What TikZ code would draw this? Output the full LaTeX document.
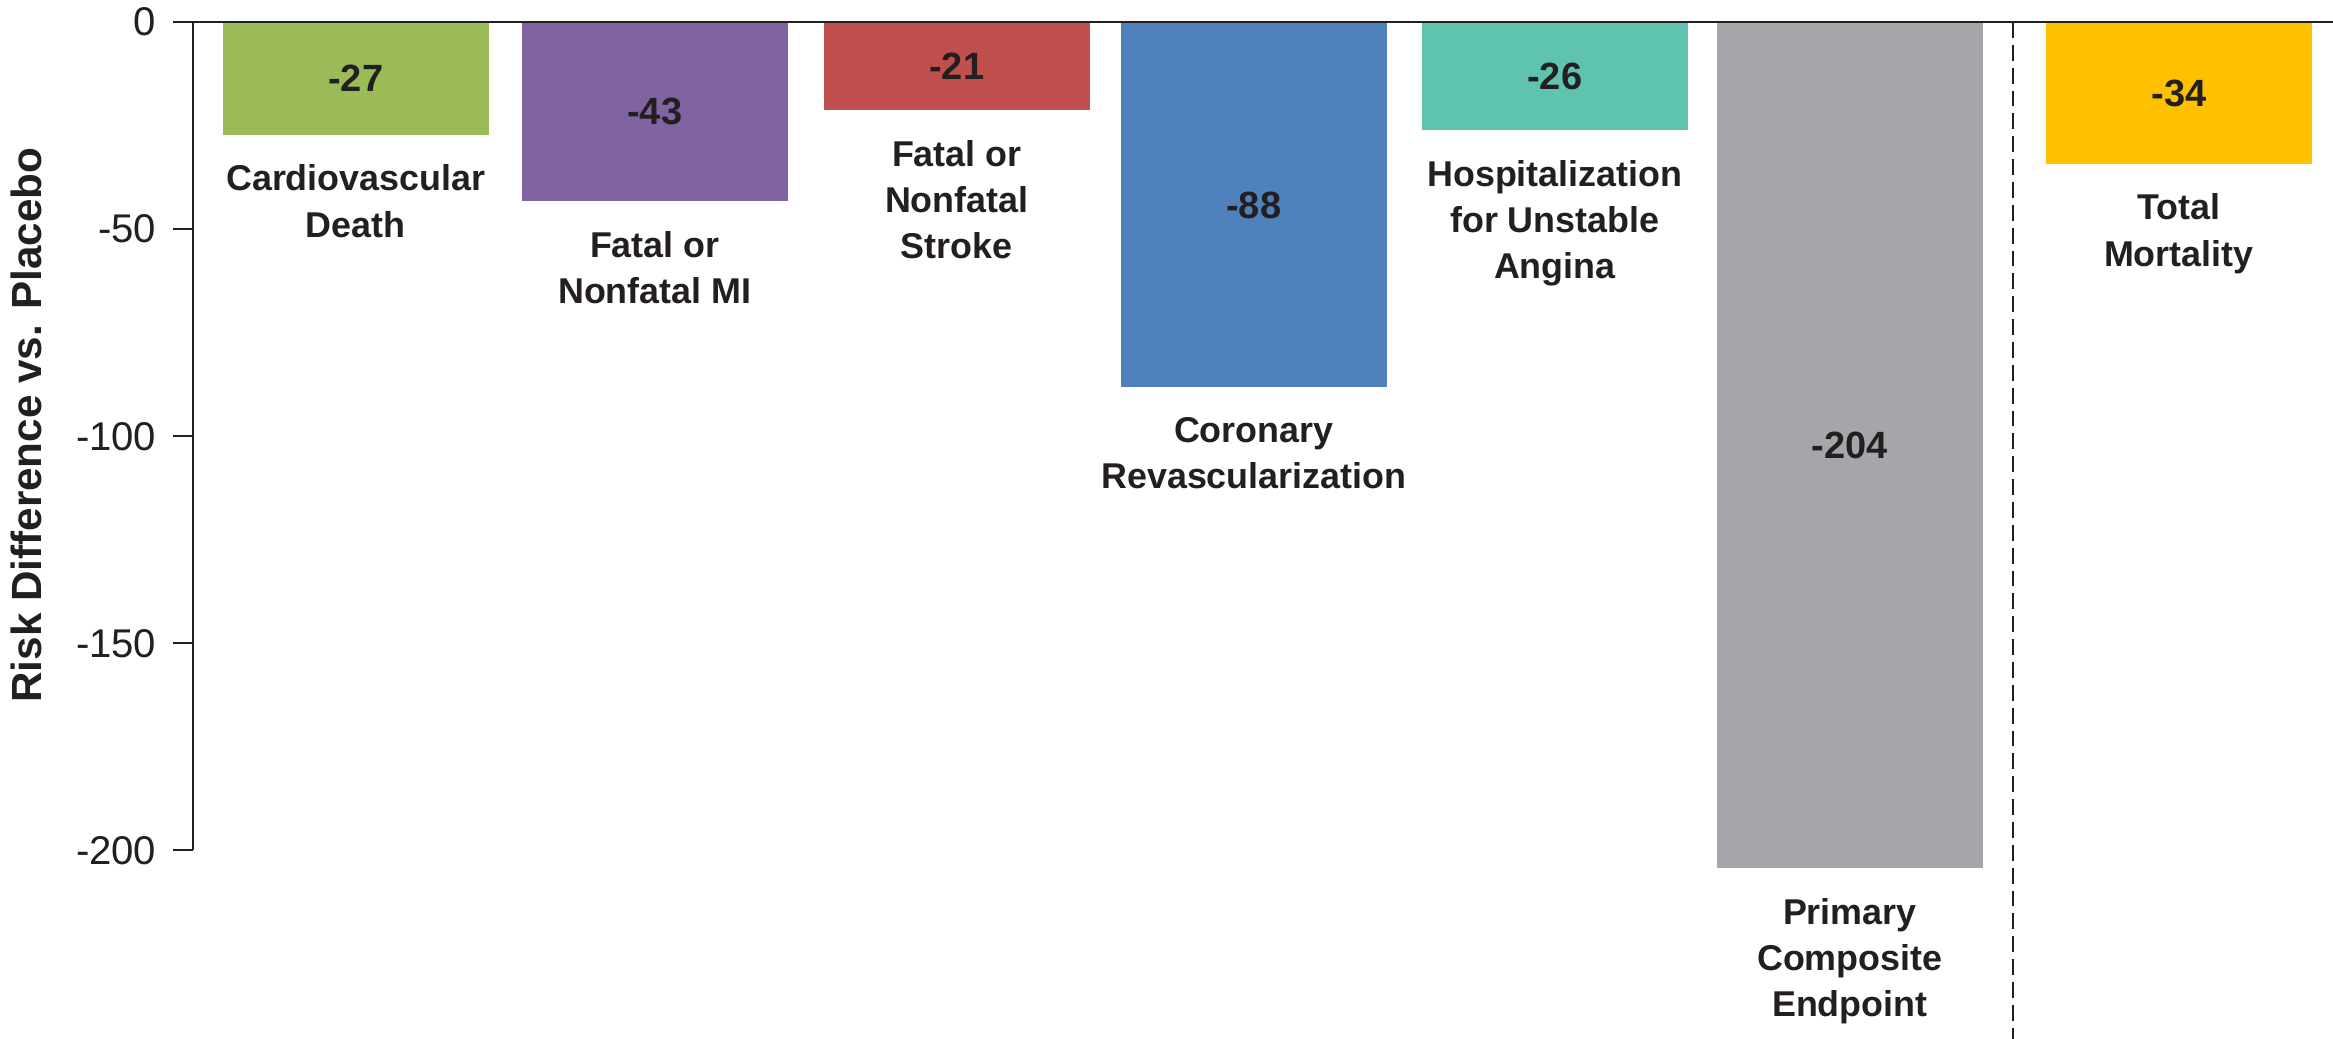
\documentclass[tikz,border=0pt]{standalone}
\usepackage{fontspec}
\setmainfont{Liberation Sans}
\usetikzlibrary{positioning}

\definecolor{inkgray}{HTML}{231F20}
\definecolor{cvgreen}{HTML}{9BBB59}
\definecolor{mipurple}{HTML}{8064A2}
\definecolor{strokered}{HTML}{C0504D}
\definecolor{revblue}{HTML}{4F81BD}
\definecolor{anginateal}{HTML}{5EC3AF}
\definecolor{compgray}{HTML}{A5A6AA}
\definecolor{mortyellow}{HTML}{FFC000}

\tikzset{
    axisline/.style = {draw = inkgray, line width = 0.6pt},
    splitline/.style = {draw = inkgray, line width = 0.6pt, dash pattern = on 4.5pt off 2pt},
    bar/.style = {anchor = north west, inner sep = 0pt, minimum width = 2.66cm},
    ticklabel/.style = {anchor = east, inner sep = 0pt, text = inkgray,
        font = \fontsize{11.4}{13}\selectfont},
    valuelabel/.style = {inner sep = 0pt, text = inkgray,
        font = \fontsize{10.8}{13}\selectfont\bfseries},
    catlabel/.style = {inner sep = 0pt, align = center, text = inkgray,
        font = \fontsize{10.2}{13.1}\selectfont\bfseries},
}

\begin{document}
\begin{tikzpicture}[x = 0.01cm, y = 0.0414cm]
        \useasboundingbox (-193,5.314) rectangle (2140,-245.41);
        % bars
        \foreach \i/\x/\val/\col/\lab in {
            0/29/-27/cvgreen/{Cardiovascular\\Death},
            1/328/-43/mipurple/{Fatal or\\Nonfatal MI},
            2/630/-21/strokered/{Fatal or\\Nonfatal\\Stroke},
            3/927/-88/revblue/{Coronary\\Revascularization},
            4/1228/-26/anginateal/{Hospitalization\\for Unstable\\Angina},
            5/1523/-204/compgray/{Primary\\Composite\\Endpoint},
            6/1852/-34/mortyellow/{Total\\Mortality}} {
            \begin{scope}[name prefix = bar\i-]
                \pgfmathsetmacro{\h}{-(\val)*0.0414}
                \node[bar, fill = \col, minimum height = \h cm] (box) at (\x,0) {};
                \node[valuelabel] (value) at (box.center) {\val};
                \node[catlabel, below = 0.29cm of box] (name) {\lab};
            \end{scope}
        }
        % axes
        \coordinate (origin) at (0,0);
        \coordinate (ybottom) at (0,-200);
        \coordinate (xleft) at (-20,0);
        \coordinate (xright) at (2140,0);
        \draw[axisline] (origin) -- (ybottom);
        \draw[axisline] (xleft) -- (xright);
        \foreach \t in {0,-50,...,-200} {
            \coordinate (tick\t-in) at (0,\t);
            \coordinate (tick\t-out) at (-20,\t);
            \draw[axisline] (tick\t-out) -- (tick\t-in);
            \node[ticklabel] (tick\t) at (-36,\t) {\t};
        }
        \node[rotate = 90, inner sep = 0pt, text = inkgray,
            font = \fontsize{12}{14}\selectfont\bfseries] (ylabel) at (-167,-97.3)
            {Risk Difference vs. Placebo};
        % separator before total mortality
        \coordinate (split-top) at (1820,0);
        \coordinate (split-bottom) at (1820,-245.41);
        \draw[splitline] (split-top) -- (split-bottom);
    \end{tikzpicture}
\end{document}
